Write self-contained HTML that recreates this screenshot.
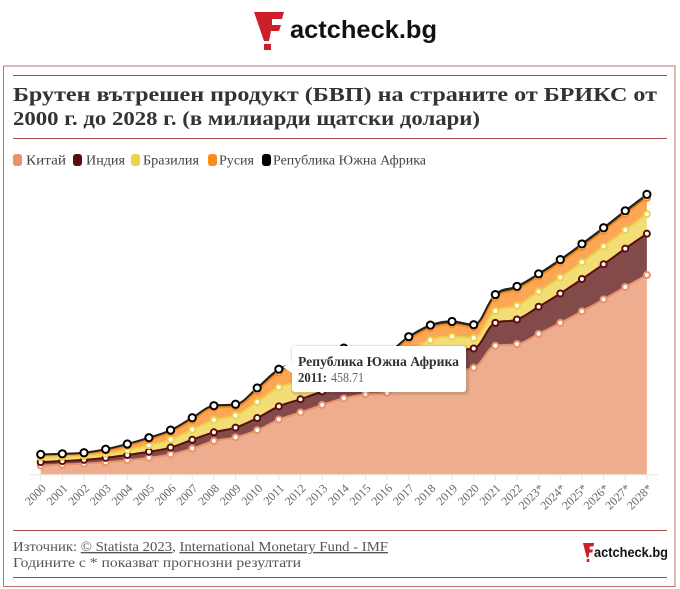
<!DOCTYPE html>
<html>
<head>
<meta charset="utf-8">
<style>
  html,body{margin:0;padding:0;background:#fff;}
  svg{display:block;}
  .serif{font-family:"Liberation Serif","DejaVu Serif",serif;}
  .sans{font-family:"Liberation Sans","DejaVu Sans",sans-serif;}
</style>
</head>
<body>
<svg id="root" width="680" height="589" viewBox="0 0 680 589" xmlns="http://www.w3.org/2000/svg">
  <rect x="0" y="0" width="680" height="589" fill="#ffffff"/>

  <!-- Top logo -->
  <g fill="#cc1f2b">
    <path d="M254,12 L284,12 L282,19 L272,19 L272,25 L281,25 L279,31 L271,31 L269,41 L264,41 Z"/>
    <rect x="264" y="44" width="7" height="6"/>
  </g>
  <text x="290" y="38" class="sans" font-size="25" font-weight="bold" fill="#111" textLength="147" lengthAdjust="spacingAndGlyphs">actcheck.bg</text>

  <!-- Frame -->
  <rect x="3.5" y="66" width="671.5" height="520.5" fill="none" stroke="#c07070" stroke-width="1"/>
  <line x1="13" y1="75.5" x2="667" y2="75.5" stroke="#a44a4a" stroke-width="1"/>
  <line x1="13" y1="138.5" x2="667" y2="138.5" stroke="#a44a4a" stroke-width="1"/>
  <line x1="13" y1="530.5" x2="667" y2="530.5" stroke="#a44a4a" stroke-width="1"/>
  <line x1="13" y1="577.5" x2="667" y2="577.5" stroke="#a44a4a" stroke-width="1"/>

  <!-- Title -->
  <text x="13" y="101" class="serif" font-size="20" font-weight="bold" fill="#333" textLength="644" lengthAdjust="spacingAndGlyphs">Брутен вътрешен продукт (БВП) на страните от БРИКС от</text>
  <text x="13" y="125" class="serif" font-size="20" font-weight="bold" fill="#333" textLength="467" lengthAdjust="spacingAndGlyphs">2000 г. до 2028 г. (в милиарди щатски долари)</text>

  <!-- Legend -->
  <rect x="13" y="154" width="9" height="12" rx="3" fill="#e8916a"/>
  <text x="26" y="164.5" class="serif" font-size="14" fill="#444" textLength="40" lengthAdjust="spacingAndGlyphs">Китай</text>
  <rect x="73" y="154" width="9" height="12" rx="3" fill="#5a0d0d"/>
  <text x="86" y="164.5" class="serif" font-size="14" fill="#444" textLength="39" lengthAdjust="spacingAndGlyphs">Индия</text>
  <rect x="131" y="154" width="9" height="12" rx="3" fill="#eed14a"/>
  <text x="143" y="164.5" class="serif" font-size="14" fill="#444" textLength="56" lengthAdjust="spacingAndGlyphs">Бразилия</text>
  <rect x="208" y="154" width="9" height="12" rx="3" fill="#f98a1c"/>
  <text x="219" y="164.5" class="serif" font-size="14" fill="#444" textLength="35" lengthAdjust="spacingAndGlyphs">Русия</text>
  <rect x="262" y="154" width="9" height="12" rx="3" fill="#000000"/>
  <text x="273" y="164.5" class="serif" font-size="14" fill="#444" textLength="153" lengthAdjust="spacingAndGlyphs">Република Южна Африка</text>

  <!-- Axis -->
  <line x1="30" y1="474.8" x2="658" y2="474.8" stroke="#e6e6e6" stroke-width="1"/>
  <g id="ticks" stroke="#e6e6e6" stroke-width="1"></g>

  <!-- Chart series -->
  <g id="chart"></g>

  <!-- X labels -->
  <g class="serif" font-size="12" fill="#666" text-anchor="end">
    <text transform="translate(46.7,489) rotate(-45)">2000</text>
    <text transform="translate(68.35,489) rotate(-45)">2001</text>
    <text transform="translate(90,489) rotate(-45)">2002</text>
    <text transform="translate(111.65,489) rotate(-45)">2003</text>
    <text transform="translate(133.3,489) rotate(-45)">2004</text>
    <text transform="translate(154.95,489) rotate(-45)">2005</text>
    <text transform="translate(176.6,489) rotate(-45)">2006</text>
    <text transform="translate(198.25,489) rotate(-45)">2007</text>
    <text transform="translate(219.9,489) rotate(-45)">2008</text>
    <text transform="translate(241.55,489) rotate(-45)">2009</text>
    <text transform="translate(263.2,489) rotate(-45)">2010</text>
    <text transform="translate(284.85,489) rotate(-45)">2011</text>
    <text transform="translate(306.5,489) rotate(-45)">2012</text>
    <text transform="translate(328.15,489) rotate(-45)">2013</text>
    <text transform="translate(349.8,489) rotate(-45)">2014</text>
    <text transform="translate(371.45,489) rotate(-45)">2015</text>
    <text transform="translate(393.1,489) rotate(-45)">2016</text>
    <text transform="translate(414.75,489) rotate(-45)">2017</text>
    <text transform="translate(436.4,489) rotate(-45)">2018</text>
    <text transform="translate(458.05,489) rotate(-45)">2019</text>
    <text transform="translate(479.7,489) rotate(-45)">2020</text>
    <text transform="translate(501.35,489) rotate(-45)">2021</text>
    <text transform="translate(523,489) rotate(-45)">2022</text>
    <text transform="translate(544.65,489) rotate(-45)">2023*</text>
    <text transform="translate(566.3,489) rotate(-45)">2024*</text>
    <text transform="translate(587.95,489) rotate(-45)">2025*</text>
    <text transform="translate(609.6,489) rotate(-45)">2026*</text>
    <text transform="translate(631.25,489) rotate(-45)">2027*</text>
    <text transform="translate(652.9,489) rotate(-45)">2028*</text>
  </g>

  <!-- Tooltip -->
  <g>
    <rect x="293" y="347" width="174" height="46" rx="3" fill="none" stroke="#000" stroke-opacity="0.05" stroke-width="5"/>
    <rect x="293" y="347" width="174" height="46" rx="3" fill="none" stroke="#000" stroke-opacity="0.08" stroke-width="3"/>
    <path d="M292,361 L283,367 L292,373 Z" fill="#ffffff"/>
    <rect x="292" y="346" width="174" height="46" rx="3" fill="#ffffff"/>
    <text x="298" y="366" class="serif" font-size="14" font-weight="bold" fill="#333" textLength="161" lengthAdjust="spacingAndGlyphs">Република Южна Африка</text>
    <text x="298" y="382" class="serif" font-size="14" font-weight="bold" fill="#333" textLength="29" lengthAdjust="spacingAndGlyphs">2011:</text>
    <text x="331" y="382" class="serif" font-size="14" fill="#666" textLength="33" lengthAdjust="spacingAndGlyphs">458.71</text>
  </g>

  <!-- Footer -->
  <text x="13" y="551" class="serif" font-size="13.5" fill="#555" textLength="375" lengthAdjust="spacingAndGlyphs">Източник: <tspan text-decoration="underline">© Statista 2023</tspan>, <tspan text-decoration="underline">International Monetary Fund - IMF</tspan></text>
  <text x="13" y="567" class="serif" font-size="13.5" fill="#555" textLength="288" lengthAdjust="spacingAndGlyphs">Годините с * показват прогнозни резултати</text>

  <!-- Small logo -->
  <g fill="#cc1f2b" transform="translate(583,543) scale(0.37,0.5) translate(-254,-12)">
    <path d="M254,12 L284,12 L282,19 L272,19 L272,25 L281,25 L279,31 L271,31 L269,41 L264,41 Z"/>
    <rect x="264" y="44" width="7" height="6"/>
  </g>
  <text x="594" y="557" class="sans" font-size="14" font-weight="bold" fill="#111" textLength="74" lengthAdjust="spacingAndGlyphs">actcheck.bg</text>
</svg>

<script>
(function(){
  var NS="http://www.w3.org/2000/svg";
  var C=[1211,1339,1471,1660,1955,2286,2752,3550,4594,5102,6087,7552,8532,9570,10476,11062,11233,12310,13895,14280,14688,17734,17963,19374,20880,22490,24130,25840,27490];
  var I=[468,485,515,608,709,820,940,1217,1199,1342,1676,1823,1828,1857,2039,2104,2295,2651,2703,2836,2672,3150,3390,3737,4060,4440,4850,5290,5700];
  var B=[655,560,510,558,669,892,1107,1397,1696,1667,2209,2616,2465,2473,2456,1802,1797,2063,1917,1873,1448,1649,1920,2081,2200,2320,2440,2560,2700];
  var R=[260,307,345,430,591,764,990,1300,1661,1223,1525,2046,2208,2292,2059,1363,1277,1575,1653,1695,1489,1837,2240,2062,2060,2100,2150,2200,2250];
  var S=[152,136,129,197,256,289,304,333,316,330,417,459,434,401,381,347,323,381,405,389,338,420,406,399,410,425,440,455,470];
  var X0=40.7, DX=21.65, Y0=474.3, K=0.00725;
  var series=[C,I,B,R,S];
  var colors=['#e8916a','#5a0d0d','#eed14a','#f98a1c','#000000'];
  var n=C.length;
  var cum=[], acc=new Array(n).fill(0);
  series.forEach(function(s){
    acc=acc.map(function(a,i){return a+s[i];});
    cum.push(acc.map(function(v,i){return [X0+i*DX, Y0-v*K];}));
  });
  function conts(p){
    var L=[],Rc=[];
    for(var i=0;i<p.length;i++){
      var x=p[i][0],y=p[i][1];
      if(i===0||i===p.length-1){L[i]=[x,y];Rc[i]=[x,y];continue;}
      var lx=p[i-1][0],ly=p[i-1][1],nx=p[i+1][0],ny=p[i+1][1];
      var sm=1.5,den=2.5;
      var lcx=(sm*x+lx)/den,lcy=(sm*y+ly)/den,rcx=(sm*x+nx)/den,rcy=(sm*y+ny)/den;
      if(rcx!==lcx){
        var corr=((rcy-lcy)*(rcx-x))/(rcx-lcx)+y-rcy;
        lcy+=corr;rcy+=corr;
      }
      if(lcy>ly&&lcy>y){lcy=Math.max(ly,y);rcy=2*y-lcy;}
      else if(lcy<ly&&lcy<y){lcy=Math.min(ly,y);rcy=2*y-lcy;}
      if(rcy>ny&&rcy>y){rcy=Math.max(ny,y);lcy=2*y-rcy;}
      else if(rcy<ny&&rcy<y){rcy=Math.min(ny,y);lcy=2*y-rcy;}
      L[i]=[lcx,lcy];Rc[i]=[rcx,rcy];
    }
    return {L:L,R:Rc};
  }
  function f(a){return a[0].toFixed(2)+','+a[1].toFixed(2);}
  function fwd(p){
    var c=conts(p),d='';
    for(var i=1;i<p.length;i++){d+=' C'+f(c.R[i-1])+' '+f(c.L[i])+' '+f(p[i]);}
    return d;
  }
  function rev(p){
    var c=conts(p),d='';
    for(var i=p.length-1;i>=1;i--){d+=' C'+f(c.L[i])+' '+f(c.R[i-1])+' '+f(p[i-1]);}
    return d;
  }
  var g=document.getElementById('chart');
  function el(tag,attrs){var e=document.createElementNS(NS,tag);for(var k in attrs)e.setAttribute(k,attrs[k]);g.appendChild(e);return e;}
  // areas
  for(var k=0;k<5;k++){
    var top=cum[k], d='M'+f(top[0])+fwd(top);
    if(k===0){d+=' L'+top[n-1][0].toFixed(2)+','+Y0+' L'+top[0][0].toFixed(2)+','+Y0+' Z';}
    else{var bot=cum[k-1]; d+=' L'+f(bot[n-1])+rev(bot)+' Z';}
    el('path',{d:d,fill:colors[k],'fill-opacity':0.75,stroke:'none'});
  }
  // lines
  for(var k=0;k<5;k++){
    var top=cum[k];
    el('path',{d:'M'+f(top[0])+fwd(top),fill:'none',stroke:(k===4?'#222':colors[k]),'stroke-width':2,'stroke-linejoin':'round','stroke-linecap':'round'});
  }
  // markers
  for(var k=0;k<5;k++){
    var top=cum[k];
    for(var i=0;i<n;i++){
      el('circle',{cx:top[i][0].toFixed(2),cy:top[i][1].toFixed(2),r:(k===4?3.6:3),fill:'#ffffff',stroke:(k===4?'#000':colors[k]),'stroke-width':2});
    }
  }
  // ticks
  var t=document.getElementById('ticks'),td='';
  for(var i=0;i<n;i++){var x=(X0+i*DX).toFixed(2);td+='M'+x+',475 L'+x+',480 ';}
  var tp=document.createElementNS(NS,'path');tp.setAttribute('d',td);t.appendChild(tp);
})();
</script>
</body>
</html>
